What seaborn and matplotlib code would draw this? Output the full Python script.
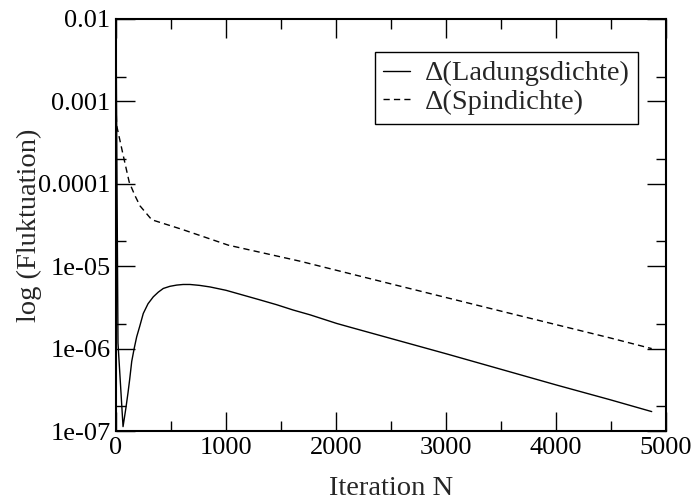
import matplotlib
matplotlib.use("Agg")
import matplotlib.pyplot as plt
from matplotlib.ticker import FixedLocator, FixedFormatter, NullFormatter
import pandas as pd
import seaborn as sns

# Charge-density fluctuation per iteration
charge_iter = [0, 18, 64, 90, 109, 125, 143, 165, 188, 215, 248, 291, 339, 385,
               430, 490, 552, 610, 673, 760, 855, 1000, 1157, 1300, 1460, 1610,
               1764, 2006, 2127, 3009, 4009, 4490, 4870]
charge_fluct = [1.0e-2, 1.17e-6, 1.13e-7, 1.9e-7, 2.9e-7, 4.3e-7, 7.0e-7, 1.0e-6,
                1.39e-6, 1.85e-6, 2.67e-6, 3.5e-6, 4.25e-6, 4.85e-6,
                5.37e-6, 5.7e-6, 5.9e-6, 6.0e-6, 6.0e-6, 5.85e-6, 5.6e-6, 5.1e-6,
                4.45e-6, 3.93e-6, 3.41e-6, 2.94e-6,
                2.57e-6, 2.02e-6, 1.82e-6, 8.6e-7, 3.6e-7, 2.4e-7, 1.72e-7]

# Spin-density fluctuation per iteration
spin_iter = [0, 6, 66, 120, 170, 218, 325, 600, 1021, 1673, 2500, 3500, 4490, 4870]
spin_fluct = [9.0e-4, 5.1e-4, 2.2e-4, 1.05e-4, 7.3e-5, 5.4e-5, 3.66e-5, 2.8e-5,
              1.8e-5, 1.15e-5, 6.1e-6, 2.85e-6, 1.35e-6, 1.0e-6]

legend_labels = ["\u0394(Ladungsdichte)", "\u0394(Spindichte)"]
x_ticks = [0, 1000, 2000, 3000, 4000, 5000]
y_ticks = [1e-7, 1e-6, 1e-5, 1e-4, 1e-3, 1e-2]
y_tick_labels = ["1e-07", "1e-06", "1e-05", "0.0001", "0.001", "0.01"]

sns.set_theme(style="ticks")
plt.rcParams["font.family"] = ["Liberation Serif", "DejaVu Serif"]

fig = plt.figure(figsize=(6.92, 5.0), dpi=100)
ax = fig.add_axes([116 / 692, 1 - 431 / 500, 550 / 692, 412 / 500])

charge_df = pd.DataFrame({"N": charge_iter, "fluct": charge_fluct})
spin_df = pd.DataFrame({"N": spin_iter, "fluct": spin_fluct})

sns.lineplot(data=charge_df, x="N", y="fluct", ax=ax, color="black", lw=1.0,
             label=legend_labels[0], sort=False, estimator=None)
sns.lineplot(data=spin_df, x="N", y="fluct", ax=ax, color="black", lw=1.0,
             label=legend_labels[1], sort=False, estimator=None)
ax.lines[1].set_dashes((4.5, 3))

ax.set_yscale("log")
ax.set_xlim(0, 5000)
ax.set_ylim(1e-7, 1e-2)

ax.xaxis.set_major_locator(FixedLocator(x_ticks))
ax.xaxis.set_minor_locator(FixedLocator([500, 1500, 2500, 3500, 4500]))
ax.yaxis.set_major_locator(FixedLocator(y_ticks))
ax.yaxis.set_major_formatter(FixedFormatter(y_tick_labels))
ax.yaxis.set_minor_locator(FixedLocator([2e-7, 2e-6, 2e-5, 2e-4, 2e-3]))
ax.yaxis.set_minor_formatter(NullFormatter())

ax.tick_params(which="both", direction="in", top=True, right=True,
               colors="black", width=1.0, labelsize=19, pad=4)
ax.tick_params(which="major", length=14)
ax.tick_params(which="minor", length=7)
for s in ax.spines.values():
    s.set_visible(True)
    s.set_linewidth(1.5)
    s.set_color("black")

ax.set_xlabel("Iteration N", fontsize=20.5)
ax.set_ylabel("log (Fluktuation)", fontsize=20.5)
ax.xaxis.set_label_coords(0.5, -0.11)
ax.yaxis.set_label_coords(-0.135, 0.5)

leg = ax.legend(loc="upper right", bbox_to_anchor=((638 - 116) / 550, (431 - 52) / 412),
                borderaxespad=0, fontsize=20.5, frameon=True, fancybox=False,
                handlelength=0.95, handletextpad=0.5, labelspacing=0.1,
                borderpad=0.3)
leg.get_frame().set_edgecolor("black")
leg.get_frame().set_linewidth(1.0)
leg.get_frame().set_alpha(1)

fig.savefig("out.png", dpi=100)
